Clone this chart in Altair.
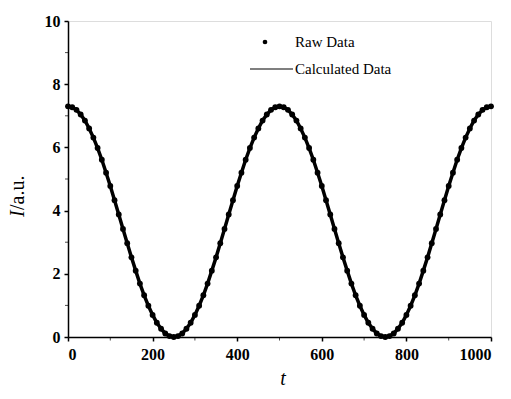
import altair as alt
import pandas as pd

t_vals = list(range(0, 1001, 10))
raw_I = [7.30, 7.27, 7.19, 7.04, 6.85, 6.60, 6.31, 5.98, 5.61, 5.20, 4.78, 4.33, 3.88, 3.42, 2.97, 2.52, 2.10, 1.69, 1.32, 0.99, 0.70, 0.45, 0.26, 0.11, 0.03, 0.00,
         0.03, 0.11, 0.26, 0.45, 0.70, 0.99, 1.32, 1.69, 2.10, 2.52, 2.97, 3.42, 3.88, 4.33, 4.78, 5.20, 5.61, 5.98, 6.31, 6.60, 6.85, 7.04, 7.19, 7.27, 7.30,
         7.27, 7.19, 7.04, 6.85, 6.60, 6.31, 5.98, 5.61, 5.20, 4.78, 4.33, 3.88, 3.42, 2.97, 2.52, 2.10, 1.69, 1.32, 0.99, 0.70, 0.45, 0.26, 0.11, 0.03, 0.00,
         0.03, 0.11, 0.26, 0.45, 0.70, 0.99, 1.32, 1.69, 2.10, 2.52, 2.97, 3.42, 3.88, 4.33, 4.78, 5.20, 5.61, 5.98, 6.31, 6.60, 6.85, 7.04, 7.19, 7.27, 7.30]
calc_I = raw_I

x_major = [0, 200, 400, 600, 800, 1000]
x_minor = [100, 300, 500, 700, 900]
y_major = [0, 2, 4, 6, 8, 10]
y_minor = [1, 3, 5, 7, 9]

df = pd.DataFrame({"t": t_vals, "raw": raw_I, "calc": calc_I})

FONT = "Times New Roman, Liberation Serif, serif"
xs = alt.Scale(domain=[0, 1000], nice=False)
ys = alt.Scale(domain=[0, 10], nice=False)

base = alt.Chart(df)

line = base.mark_line(color="black", strokeWidth=3.5).encode(
    x=alt.X("t:Q", scale=xs, axis=alt.Axis(values=x_major, title=None, format="d", tickSize=4,
                                           labelFontSize=16, labelFont=FONT, labelFontWeight="bold",
                                           labelColor="black", domainColor="black", tickColor="black",
                                           labelPadding=5, grid=False, domainWidth=1.5, tickWidth=1.5)),
    y=alt.Y("calc:Q", scale=ys, axis=alt.Axis(values=y_major, title=None, format="d", tickSize=4,
                                              labelFontSize=16, labelFont=FONT, labelFontWeight="bold",
                                              labelColor="black", domainColor="black", tickColor="black",
                                              labelPadding=4, grid=False, domainWidth=1.5, tickWidth=1.5)),
)

pts = base.mark_circle(color="black", size=34, opacity=1).encode(
    x=alt.X("t:Q", scale=xs),
    y=alt.Y("raw:Q", scale=ys),
)

minor_x = alt.Chart(pd.DataFrame({"t": x_minor})).mark_tick(color="black", size=3, thickness=1, orient="vertical").encode(
    x=alt.X("t:Q", scale=xs),
    y=alt.value(318),
)
minor_y = alt.Chart(pd.DataFrame({"v": y_minor})).mark_tick(color="black", size=3, thickness=1, orient="horizontal").encode(
    y=alt.Y("v:Q", scale=ys),
    x=alt.value(-1.5),
)

leg_dot = alt.Chart(pd.DataFrame({"a": [0]})).mark_circle(color="black", size=22, opacity=1).encode(
    x=alt.value(197), y=alt.value(21))
leg_line = alt.Chart(pd.DataFrame({"a": [0]})).mark_rule(color="black", strokeWidth=1.2).encode(
    x=alt.value(182), x2=alt.value(225), y=alt.value(48))
leg_t1 = alt.Chart(pd.DataFrame({"s": ["Raw Data"]})).mark_text(
    font=FONT, fontSize=15, align="left", baseline="middle", color="black").encode(
    x=alt.value(227), y=alt.value(21), text="s:N")
leg_t2 = alt.Chart(pd.DataFrame({"s": ["Calculated Data"]})).mark_text(
    font=FONT, fontSize=15, align="left", baseline="middle", color="black").encode(
    x=alt.value(227), y=alt.value(48), text="s:N")

ytitle_I = alt.Chart(pd.DataFrame({"s": ["I"]})).mark_text(
    font=FONT, fontSize=20, fontStyle="italic", align="left", baseline="middle", angle=270, color="black").encode(
    x=alt.value(-50), y=alt.value(196), text="s:N")
ytitle_rest = alt.Chart(pd.DataFrame({"s": ["/a.u."]})).mark_text(
    font=FONT, fontSize=20, align="left", baseline="middle", angle=270, color="black").encode(
    x=alt.value(-50), y=alt.value(189), text="s:N")
xtitle = alt.Chart(pd.DataFrame({"s": ["t"]})).mark_text(
    font=FONT, fontSize=20, fontStyle="italic", align="center", baseline="middle", color="black").encode(
    x=alt.value(215), y=alt.value(358), text="s:N")

chart = alt.layer(line, pts, minor_x, minor_y, leg_dot, leg_line, leg_t1, leg_t2, ytitle_I, ytitle_rest, xtitle).properties(
    width=423, height=316,
    autosize=alt.AutoSizeParams(type="none"),
    padding={"left": 68, "top": 21, "right": 20, "bottom": 62},
).configure_view(stroke="black", strokeWidth=1.5).configure(background="white")

chart.save("out.html", embed_options={"renderer": "svg", "actions": False})
